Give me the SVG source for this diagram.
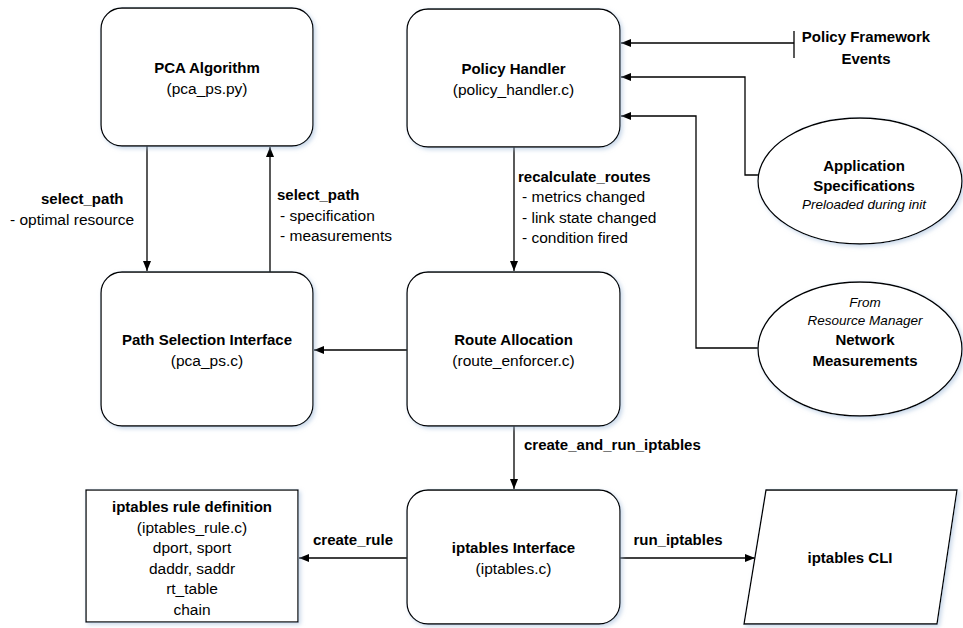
<svg xmlns="http://www.w3.org/2000/svg" width="963" height="628" viewBox="0 0 963 628">
  <defs>
    <marker id="arrow" markerUnits="userSpaceOnUse" markerWidth="11" markerHeight="9" refX="10" refY="4" orient="auto">
      <path d="M0,0 L10,4 L0,8 Z" fill="#000"/>
    </marker>
    <filter id="shadow" x="-10%" y="-10%" width="125%" height="125%">
      <feDropShadow dx="2" dy="2" stdDeviation="2" flood-color="#9db8d8" flood-opacity="0.55"/>
    </filter>
  </defs>
  <style>
    text { font-family: "Liberation Sans", Arial, sans-serif; fill: #000; }
    .b { font-weight: bold; font-size: 15px; }
    .r { font-size: 15.5px; }
    .i { font-style: italic; font-size: 13.5px; }
    .mid { text-anchor: middle; }
    .shape { fill: #fff; stroke: #000; stroke-width: 1.3; filter: url(#shadow); }
    .wire { fill: none; stroke: #000; stroke-width: 1.3; }
    .arr { marker-end: url(#arrow); }
  </style>
  <rect width="963" height="628" fill="#fff"/>

  <!-- connectors -->
  <g id="connectors">
    <path class="wire arr" d="M147,146 V271"/>
    <path class="wire arr" d="M270,272 V147"/>
    <path class="wire arr" d="M514,147 V271"/>
    <path class="wire arr" d="M407,350 H314"/>
    <path class="wire arr" d="M514,426 V489"/>
    <path class="wire arr" d="M407,558 H299"/>
    <path class="wire arr" d="M620,558 H755"/>
    <path class="wire arr" d="M794,43 H621"/>
    <path class="wire" d="M794,31 V58"/>
    <path class="wire arr" d="M758,175 H745 V77 H621"/>
    <path class="wire arr" d="M758,348 H696 V116 H621"/>

    <text class="b" x="41" y="204">select_path</text>
    <text class="r" x="10" y="225">- optimal resource</text>

    <text class="b" x="277" y="200">select_path</text>
    <text class="r" x="280" y="221">- specification</text>
    <text class="r" x="280" y="241">- measurements</text>

    <text class="b" x="518" y="182">recalculate_routes</text>
    <text class="r" x="522" y="202">- metrics changed</text>
    <text class="r" x="522" y="223">- link state changed</text>
    <text class="r" x="522" y="243">- condition fired</text>

    <text class="b" x="524" y="450">create_and_run_iptables</text>
    <text class="b mid" x="353" y="545">create_rule</text>
    <text class="b mid" x="678" y="545">run_iptables</text>

    <text class="b mid" x="866" y="42">Policy Framework</text>
    <text class="b mid" x="866" y="64">Events</text>
  </g>

  <g id="pca-algorithm">
    <rect class="shape" x="101" y="8" width="212" height="138" rx="21" ry="21"/>
    <text class="b mid" x="207" y="73">PCA Algorithm</text>
    <text class="r mid" x="207" y="93.5">(pca_ps.py)</text>
  </g>

  <g id="policy-handler">
    <rect class="shape" x="407" y="9" width="213" height="138" rx="21" ry="21"/>
    <text class="b mid" x="513.5" y="74">Policy Handler</text>
    <text class="r mid" x="513.5" y="94.5">(policy_handler.c)</text>
  </g>

  <g id="path-selection">
    <rect class="shape" x="101" y="272" width="212" height="154" rx="21" ry="21"/>
    <text class="b mid" x="207" y="345">Path Selection Interface</text>
    <text class="r mid" x="207" y="365.5">(pca_ps.c)</text>
  </g>

  <g id="route-allocation">
    <rect class="shape" x="407" y="272" width="213" height="154" rx="21" ry="21"/>
    <text class="b mid" x="513.5" y="345">Route Allocation</text>
    <text class="r mid" x="513.5" y="365.5">(route_enforcer.c)</text>
  </g>

  <g id="application-specifications">
    <ellipse class="shape" cx="860" cy="181" rx="102" ry="63"/>
    <text class="b mid" x="864" y="171">Application</text>
    <text class="b mid" x="864" y="191">Specifications</text>
    <text class="i mid" x="864" y="209">Preloaded during init</text>
  </g>

  <g id="network-measurements">
    <ellipse class="shape" cx="860" cy="349" rx="102" ry="67"/>
    <text class="i mid" x="865" y="307">From</text>
    <text class="i mid" x="865" y="325">Resource Manager</text>
    <text class="b mid" x="865" y="345">Network</text>
    <text class="b mid" x="865" y="366">Measurements</text>
  </g>

  <g id="iptables-rule">
    <rect class="shape" x="86" y="490" width="212" height="132"/>
    <text class="b mid" x="192" y="512">iptables rule definition</text>
    <text class="r mid" x="192" y="533">(iptables_rule.c)</text>
    <text class="r mid" x="192" y="553">dport, sport</text>
    <text class="r mid" x="192" y="574">daddr, saddr</text>
    <text class="r mid" x="192" y="594">rt_table</text>
    <text class="r mid" x="192" y="615">chain</text>
  </g>

  <g id="iptables-interface">
    <rect class="shape" x="407" y="490" width="213" height="134" rx="21" ry="21"/>
    <text class="b mid" x="513.5" y="553">iptables Interface</text>
    <text class="r mid" x="513.5" y="573.5">(iptables.c)</text>
  </g>

  <g id="iptables-cli">
    <polygon class="shape" points="766,490 957,490 937,624 744,624"/>
    <text class="b mid" x="850" y="563">iptables CLI</text>
  </g>
</svg>
